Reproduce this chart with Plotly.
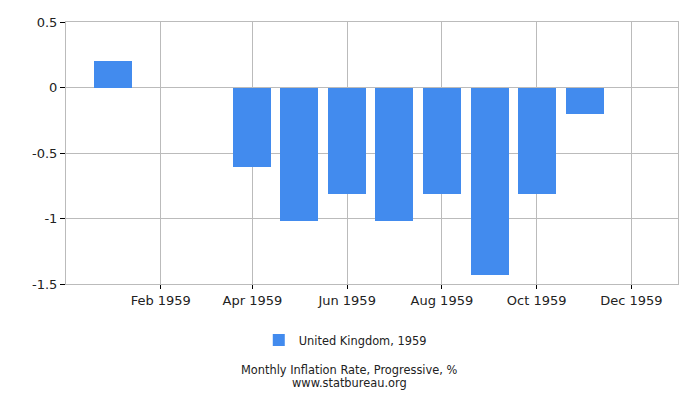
#!/usr/bin/env python3

import plotly.graph_objects as go

# monthly inflation rate, UK 1959 (progressive, %)
months = ['1959-01-01', '1959-02-01', '1959-03-01', '1959-04-01',
          '1959-05-01', '1959-06-01', '1959-07-01', '1959-08-01',
          '1959-09-01', '1959-10-01', '1959-11-01', '1959-12-01']
rates = [0.2, 0, 0, -0.61, -1.02, -0.81, -1.02, -0.81, -1.43, -0.81, -0.2, 0]

tick_vals = ['1959-02-01', '1959-04-01', '1959-06-01',
             '1959-08-01', '1959-10-01', '1959-12-01']
tick_text = ['Feb 1959', 'Apr 1959', 'Jun 1959',
             'Aug 1959', 'Oct 1959', 'Dec 1959']

DAY_MS = 86400000

fig = go.Figure()
fig.add_trace(
    go.Bar(
        x=months,
        y=rates,
        width=24.5 * DAY_MS,
        marker=dict(color='#428bee', line=dict(width=0)),
        name='United Kingdom, 1959',
        showlegend=True,
    )
)

# page body has an 8px margin, so the figure is a bit smaller than the window
fig.update_layout(
    width=692,
    height=392,
    template='none',
    paper_bgcolor='white',
    plot_bgcolor='white',
    margin=dict(l=58, r=22, t=14, b=116),
    font=dict(family='DejaVu Sans', size=12, color='#222222'),
    legend=dict(
        orientation='h',
        x=0.315, xanchor='left',
        y=-0.214, yanchor='middle',
        font=dict(size=11.4),
    ),
    bargap=0,
)

# footer text is centred on the page, not on the plot area
fig.add_annotation(
    text='Monthly Inflation Rate, Progressive, %',
    xref='paper', yref='paper',
    x=0.464, y=-0.328, yanchor='middle',
    showarrow=False,
    font=dict(size=11.4, color='#222222'),
)
fig.add_annotation(
    text='www.statbureau.org',
    xref='paper', yref='paper',
    x=0.464, y=-0.378, yanchor='middle',
    showarrow=False,
    font=dict(size=11.4, color='#222222'),
)

fig.update_xaxes(
    type='date',
    range=['1958-12-02', '1959-12-31'],
    tickvals=tick_vals,
    ticktext=tick_text,
    showgrid=True,
    gridcolor='#bbbbbb',
    showline=True,
    linecolor='#bbbbbb',
    mirror=True,
    ticks='outside',
    ticklen=4,
    tickcolor='black',
    tickfont=dict(size=13),
    zeroline=False,
)
fig.update_yaxes(
    range=[-1.5, 0.5],
    tickvals=[0.5, 0, -0.5, -1, -1.5],
    ticktext=['0.5', '0', '-0.5', '-1', '-1.5'],
    showgrid=True,
    gridcolor='#bbbbbb',
    showline=True,
    linecolor='#bbbbbb',
    mirror=True,
    ticks='outside',
    ticklen=5,
    tickcolor='black',
    tickfont=dict(size=13),
    zeroline=False,
)

fig.write_html('out.html')
